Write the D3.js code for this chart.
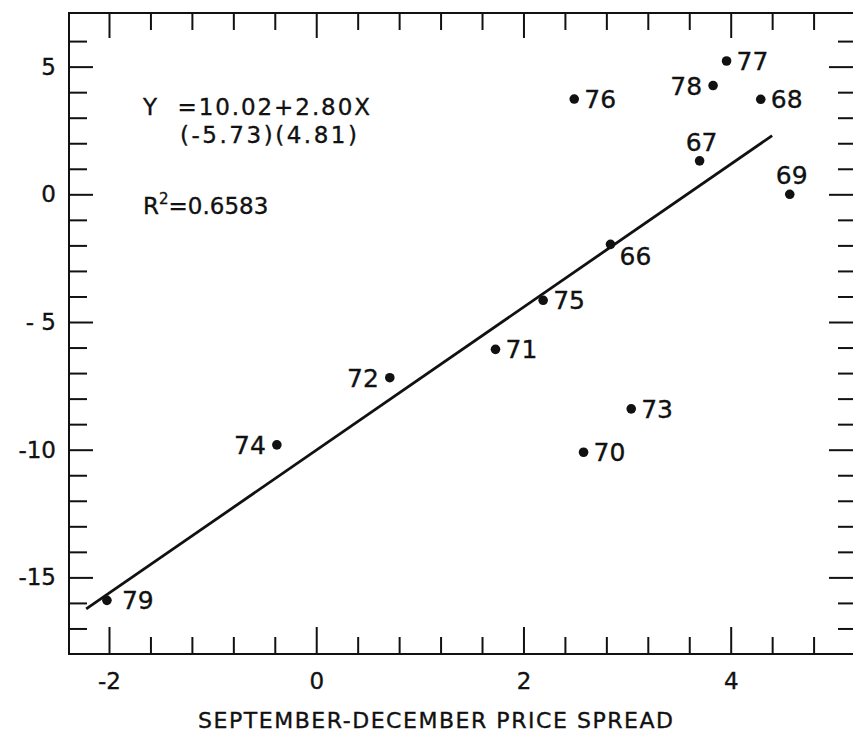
<!DOCTYPE html>
<html>
<head>
<meta charset="utf-8">
<script src="https://cdn.jsdelivr.net/npm/d3@7"></script>
<style>
  body { margin: 0; background: #fff; }
  svg text { font-family: "DejaVu Sans", sans-serif; fill: #111; stroke: #111; stroke-width: 0.35; }
</style>
</head>
<body>
<div id="chart"></div>
<script>

// years (point labels), Sept-Dec price spread (x) and the plotted y value
const years  = ["66", "67", "68", "69", "70", "71", "72", "73", "74", "75", "76", "77", "78", "79"];
const spread = [2.84, 3.70, 4.29, 4.57, 2.58, 1.73, 0.71, 3.04, -0.38, 2.19, 2.49, 3.96, 3.83, -2.02];
const yVals  = [-1.96, 1.31, 3.72, 0.00, -10.10, -6.07, -7.18, -8.40, -9.81, -4.15, 3.73, 5.22, 4.26, -15.90];
// where each year label sits next to its dot
const labelSide = ["rb", "a", "r", "a", "r", "r", "l", "r", "l", "r", "r", "r", "l", "r"];

const xMajor = [-2, 0, 2, 4];
const yMajor = [5, 0, -5, -10, -15];
const yTickLabels = ["5", "0", "- 5", "-10", "-15"];

// fitted line
const intercept = -10.02;
const slope = 2.80;
const fitRange = [-2.22, 4.40];

const width = 853, height = 733;
const pLeft = 69, pRight = 854, pTop = 13, pBottom = 654;

const svg = d3.select('#chart')
    .append('svg')
    .attr('width', width)
    .attr('height', height);

const x = d3.scaleLinear().domain([-2.386, 5.19]).range([pLeft, pRight]);
const y = d3.scaleLinear().domain([7.1, -18.0]).range([pTop, pBottom]);

const xMinor = d3.range(-2, 5.19, 0.4).map(v => +v.toFixed(1)).filter(v => !xMajor.includes(v));
const yMinor = d3.range(-17, 7, 1).filter(v => !yMajor.includes(v));

function clean(g) {
    g.select('.domain').remove();
    g.selectAll('line').attr('stroke', '#111').attr('stroke-width', 2);
}

// bottom
svg.append('g').attr('transform', `translate(0,${pBottom})`)
    .call(d3.axisBottom(x).tickValues(xMinor).tickSize(-17).tickFormat(''))
    .call(clean);
svg.append('g').attr('transform', `translate(0,${pBottom})`)
    .call(d3.axisBottom(x).tickValues(xMajor).tickSize(-27).tickPadding(19).tickFormat(d => d < 0 ? '-' + Math.abs(d) : d))
    .call(clean)
    .call(g => g.selectAll('text').attr('font-size', 23).attr('fill', '#111').attr('font-family', null));

// top
svg.append('g').attr('transform', `translate(0,${pTop})`)
    .call(d3.axisTop(x).tickValues(xMinor).tickSize(-17).tickFormat(''))
    .call(clean);
svg.append('g').attr('transform', `translate(0,${pTop})`)
    .call(d3.axisTop(x).tickValues(xMajor).tickSize(-25).tickFormat(''))
    .call(clean);

// left
svg.append('g').attr('transform', `translate(${pLeft},0)`)
    .call(d3.axisLeft(y).tickValues(yMinor).tickSize(-18).tickFormat(''))
    .call(clean);
svg.append('g').attr('transform', `translate(${pLeft},0)`)
    .call(d3.axisLeft(y).tickValues(yMajor).tickSize(-24).tickPadding(13)
        .tickFormat((d, i) => yTickLabels[i]))
    .call(clean)
    .call(g => g.selectAll('text').attr('font-size', 23).attr('fill', '#111').attr('font-family', null).style('white-space', 'pre'));

// right
svg.append('g').attr('transform', `translate(${pRight},0)`)
    .call(d3.axisRight(y).tickValues(yMinor).tickSize(-16).tickFormat(''))
    .call(clean);
svg.append('g').attr('transform', `translate(${pRight},0)`)
    .call(d3.axisRight(y).tickValues(yMajor).tickSize(-25).tickFormat(''))
    .call(clean);

// frame
svg.append('rect')
    .attr('x', pLeft).attr('y', pTop)
    .attr('width', pRight - pLeft).attr('height', pBottom - pTop)
    .attr('fill', 'none').attr('stroke', '#111').attr('stroke-width', 2);

// regression line
svg.append('line')
    .attr('x1', x(fitRange[0])).attr('y1', y(intercept + slope * fitRange[0]))
    .attr('x2', x(fitRange[1])).attr('y2', y(intercept + slope * fitRange[1]))
    .attr('stroke', '#111').attr('stroke-width', 2.8);

const pts = years.map((yr, i) => ({ yr: yr, x: spread[i], y: yVals[i], side: labelSide[i] }));

svg.selectAll('circle')
    .data(pts)
    .enter()
    .append('circle')
    .attr('cx', d => x(d.x))
    .attr('cy', d => y(d.y))
    .attr('r', 4.8)
    .attr('fill', '#111');

svg.selectAll('text.yr')
    .data(pts)
    .enter()
    .append('text')
    .attr('class', 'yr')
    .attr('font-size', 25)
    .attr('x', d => {
        if (d.side === 'l') return x(d.x) - 11;
        if (d.side === 'a') return x(d.x) + 2;
        if (d.side === 'rb') return x(d.x) + 9;
        return x(d.x) + (d.yr === '79' ? 15 : 10);
    })
    .attr('y', d => {
        if (d.side === 'a') return y(d.y) - 19;
        if (d.side === 'rb') return y(d.y) + 12;
        return y(d.y);
    })
    .attr('dy', '0.36em')
    .attr('text-anchor', d => d.side === 'l' ? 'end' : (d.side === 'a' ? 'middle' : 'start'))
    .text(d => d.yr);

// equation block
svg.append('text')
    .attr('x', 143).attr('y', 115)
    .attr('font-size', 23)
    .attr('textLength', 227).attr('lengthAdjust', 'spacing')
    .style('white-space', 'pre')
    .text('Y  =10.02+2.80X');
svg.append('text')
    .attr('x', 180).attr('y', 143)
    .attr('font-size', 23)
    .attr('textLength', 177).attr('lengthAdjust', 'spacing')
    .text('(-5.73)(4.81)');
const r2 = svg.append('text')
    .attr('x', 143).attr('y', 214)
    .attr('font-size', 23);
r2.append('tspan').text('R');
r2.append('tspan').attr('font-size', 15).attr('dy', -10).text('2');
r2.append('tspan').attr('dy', 10).text('=0.6583');

// x axis title
svg.append('text')
    .attr('x', 198).attr('y', 728)
    .attr('font-size', 22)
    .attr('textLength', 475).attr('lengthAdjust', 'spacing')
    .text('SEPTEMBER-DECEMBER PRICE SPREAD');

</script>
</body>
</html>
